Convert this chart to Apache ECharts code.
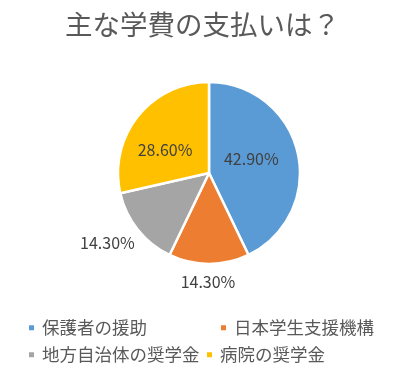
<!DOCTYPE html>
<html><head><meta charset="utf-8">
<script src="https://cdn.jsdelivr.net/npm/echarts@6/dist/echarts.min.js"></script>
<style>html,body{margin:0;padding:0;background:#fff}#c{width:405px;height:369px}</style>
</head><body><div id="c"></div>
<script>
const titleText = '主な学費の支払いは？';
const categories = ['保護者の援助', '日本学生支援機構', '地方自治体の奨学金', '病院の奨学金'];
const values = [42.9, 14.3, 14.3, 28.6];

// styling (not data)
const colors = ['#5B9BD5', '#ED7D31', '#A5A5A5', '#FFC000'];
const labelPositions = ['inside', 'outside', 'outside', 'inside'];
const labelLineLengths = [0, 18, 30, 0];
const labelNudge = [[-5, -3], [-6, 0], [-2, -6], [-6, 7]];

const font = '"Noto Sans CJK JP", "Noto Sans", sans-serif';
const chart = echarts.init(document.getElementById('c'), null, {renderer: 'canvas'});

const data = categories.map((name, i) => ({
  name, value: values[i],
  itemStyle: {color: colors[i]},
  label: {position: labelPositions[i]},
  labelLine: {show: false, length: labelLineLengths[i], length2: 0}
}));

function legendAt(i, left, top) {
  return {
    data: [categories[i]], left, top, orient: 'horizontal',
    icon: 'rect', itemWidth: 7, itemHeight: 7, itemGap: 0,
    textStyle: {fontFamily: font, fontSize: 17.5, color: '#595959', padding: [0, 0, 0, 2]},
    padding: 0, selectedMode: false
  };
}

chart.setOption({
  animation: false,
  backgroundColor: '#fff',
  title: {
    text: titleText, left: 'center', top: 6,
    textStyle: {fontFamily: font, fontSize: 27.5, fontWeight: 'normal', color: '#595959'}
  },
  legend: [
    legendAt(0, 27, 319),
    legendAt(1, 219, 319),
    legendAt(2, 27, 346),
    legendAt(3, 205, 346)
  ],
  series: [{
    type: 'pie',
    center: [209, 173],
    radius: [0, 91],
    startAngle: 90,
    clockwise: true,
    data,
    itemStyle: {borderColor: '#fff', borderWidth: 2.5},
    label: {
      show: true,
      formatter: p => p.value.toFixed(2) + '%',
      fontFamily: font, fontSize: 16, color: '#404040'
    },
    labelLayout: function (p) {
      const n = labelNudge[p.dataIndex];
      const o = {dx: n[0], dy: n[1]};
      if (labelPositions[p.dataIndex] === 'outside') o.align = 'center';
      return o;
    },
    emphasis: {disabled: true}
  }]
});
</script></body></html>
